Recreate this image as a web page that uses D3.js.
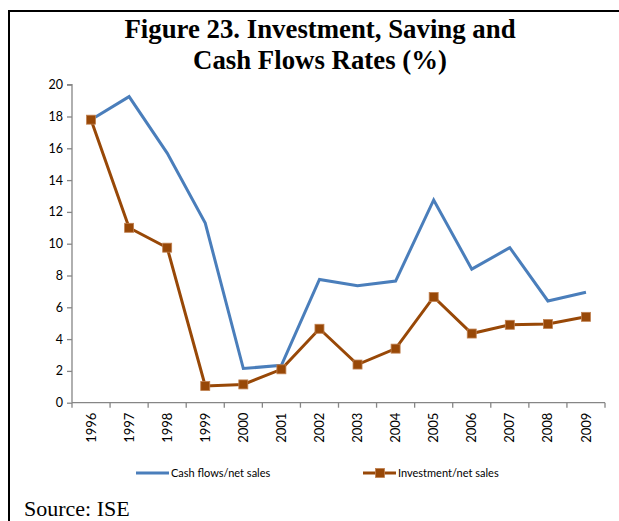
<!DOCTYPE html>
<html>
<head>
<meta charset="utf-8">
<script src="https://cdn.jsdelivr.net/npm/d3@7"></script>
<style>
  html, body { margin: 0; padding: 0; background: #fff; }
  svg { display: block; }
</style>
</head>
<body>
<svg id="chart" width="619" height="521"></svg>
<script>
// Years on the category axis
const years = ["1996","1997","1998","1999","2000","2001","2002","2003","2004","2005","2006","2007","2008","2009"];
// Cash flows / net sales (%)
const cashFlows = [17.8, 19.25, 15.7, 11.3, 2.15, 2.35, 7.75, 7.35, 7.65, 12.75, 8.4, 9.75, 6.4, 6.95];
// Investment / net sales (%)
const investment = [17.8, 11.0, 9.75, 1.05, 1.15, 2.1, 4.65, 2.4, 3.4, 6.65, 4.35, 4.9, 4.95, 5.4];
// Value axis ticks
const yTicks = [0, 2, 4, 6, 8, 10, 12, 14, 16, 18, 20];
const seriesNames = ["Cash flows/net sales", "Investment/net sales"];
const titleLines = ["Figure 23. Investment, Saving and", "Cash Flows Rates (%)"];

const svg = d3.select("#chart");
const blue = "#4a7ebb";
const brown = "#984807";
const axisGray = "#868686";
const tickFont = "Lato, 'Open Sans', sans-serif";

// Frame around the figure
svg.append("line").attr("x1", 8).attr("x2", 619).attr("y1", 11).attr("y2", 11)
  .attr("stroke", "#000").attr("stroke-width", 2);
svg.append("line").attr("x1", 9).attr("x2", 9).attr("y1", 10).attr("y2", 521)
  .attr("stroke", "#000").attr("stroke-width", 2);

// Title
svg.append("g").selectAll("text").data(titleLines).join("text")
  .attr("x", 320).attr("y", (d, i) => 38 + i * 31)
  .attr("text-anchor", "middle")
  .attr("font-family", "'Liberation Serif', 'Times New Roman', serif")
  .attr("font-weight", "bold").attr("font-size", 26.8)
  .attr("fill", "#000").text(d => d);

const x = d3.scaleBand().domain(years).range([72, 605]);
const y = d3.scaleLinear().domain([0, 20]).range([402.7, 84.7]);

// Value axis
const yAxis = svg.append("g").attr("transform", "translate(72,0)")
  .call(d3.axisLeft(y).tickValues(yTicks).tickSize(5).tickPadding(4).tickFormat(d3.format("d")));
yAxis.select(".domain").attr("stroke", axisGray).attr("stroke-width", 1.3).attr("d", `M-5,${y(20)}H0V${y(0)}`);
yAxis.selectAll(".tick line").attr("stroke", axisGray).attr("stroke-width", 1.3);
yAxis.selectAll(".tick text").attr("font-family", tickFont).attr("font-size", 12.5).attr("fill", "#000");

// Category axis with ticks between categories
const xAxis = svg.append("g").attr("transform", `translate(0,${y(0)})`)
  .call(d3.axisBottom(x).tickSize(0).tickPadding(0));
xAxis.select(".domain").attr("stroke", axisGray).attr("stroke-width", 1.3).attr("d", `M72,0H605`);
const bounds = years.map(yr => x(yr)).concat([x.range()[1]]);
xAxis.append("g").selectAll("line").data(bounds).join("line")
  .attr("x1", d => d).attr("x2", d => d).attr("y1", 0).attr("y2", 5)
  .attr("stroke", axisGray).attr("stroke-width", 1.3);
xAxis.selectAll(".tick text")
  .attr("font-family", tickFont).attr("font-size", 13).attr("fill", "#000")
  .attr("transform", "rotate(-90)")
  .attr("text-anchor", "end").attr("dy", "0.35em")
  .attr("x", -10).attr("y", 0);

const cx = d => x(d) + x.bandwidth() / 2;
const line = d3.line().x((d, i) => cx(years[i])).y(d => y(d));

// Cash flows series
svg.append("path").datum(cashFlows).attr("d", line)
  .attr("fill", "none").attr("stroke", blue).attr("stroke-width", 3)
  .attr("stroke-linejoin", "miter");

// Investment series with square markers
svg.append("path").datum(investment).attr("d", line)
  .attr("fill", "none").attr("stroke", brown).attr("stroke-width", 3)
  .attr("stroke-linejoin", "miter");
svg.append("g").selectAll("rect").data(investment).join("rect")
  .attr("x", (d, i) => cx(years[i]) - 4.5).attr("y", d => y(d) - 4.5)
  .attr("width", 9).attr("height", 9)
  .attr("fill", brown).attr("stroke", "#c08050").attr("stroke-width", 0.8);

// Legend
const legend = svg.append("g").attr("font-family", tickFont).attr("font-size", 11).attr("fill", "#000");
legend.append("line").attr("x1", 136).attr("x2", 169).attr("y1", 473).attr("y2", 473)
  .attr("stroke", blue).attr("stroke-width", 3);
legend.append("text").attr("x", 171).attr("y", 477).text(seriesNames[0]);
legend.append("line").attr("x1", 363).attr("x2", 396).attr("y1", 473).attr("y2", 473)
  .attr("stroke", brown).attr("stroke-width", 3);
legend.append("rect").attr("x", 375.5).attr("y", 468.5).attr("width", 9).attr("height", 9)
  .attr("fill", brown).attr("stroke", "#c08050").attr("stroke-width", 0.8);
legend.append("text").attr("x", 398).attr("y", 477).text(seriesNames[1]);

// Source note
svg.append("text").attr("x", 24).attr("y", 516)
  .attr("font-family", "'Liberation Serif', 'Times New Roman', serif")
  .attr("font-size", 22).attr("fill", "#000").text("Source: ISE");
</script>
</body>
</html>
